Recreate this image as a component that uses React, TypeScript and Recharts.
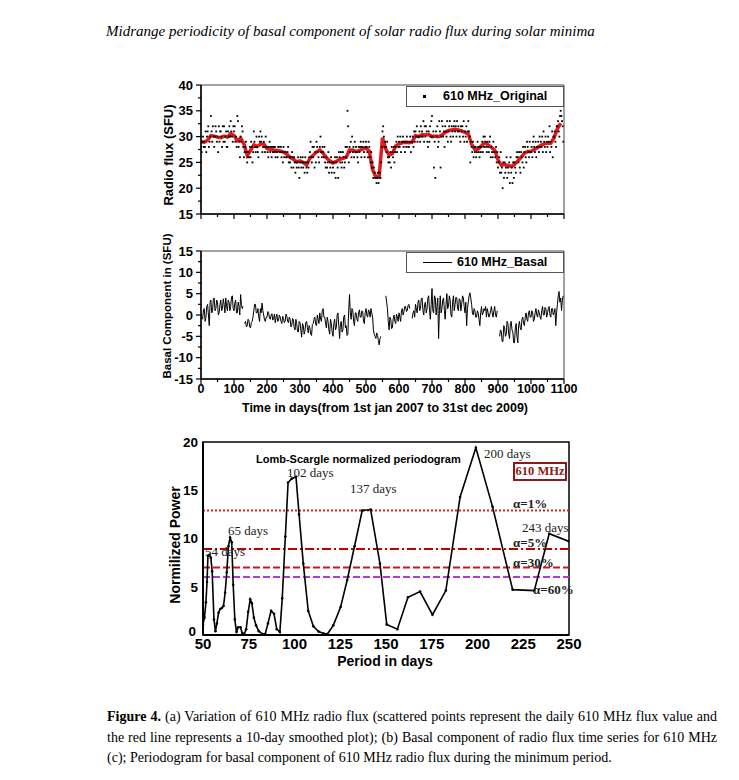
import React from 'react'
import { ComposedChart, LineChart, Line, Scatter, XAxis, YAxis, ReferenceLine, ReferenceArea } from 'recharts'

const title = 'Midrange periodicity of basal component of solar radio flux during solar minima'

// (a) daily 610 MHz flux, one row per 10-day block (a reading every 2 days)
const dailyFluxBlocks: number[][] = [
  [28, 27, 29, 30, 28], [29, 28, 31, 27, 30], [31, 32, 28, 29, 30], [34, 31, 29, 32, 30], [28, 30, 32, 31, 29],
  [30, 27, 32, 29, 31], [31, 30, 28, 32, 29], [32, 29, 30, 31, 28], [28, 31, 30, 32, 30], [33, 31, 30, 29, 32],
  [31, 32, 29, 30, 28], [34, 33, 28, 29, 26], [30, 29, 32, 31, 28], [26, 27, 28, 29, 27], [25, 26, 27, 26, 28],
  [26, 29, 28, 25, 27], [31, 29, 28, 27, 30], [28, 27, 26, 30, 29], [31, 29, 30, 27, 28], [29, 28, 27, 30, 28],
  [28, 27, 26, 28, 29], [27, 28, 26, 28, 27], [28, 27, 28, 26, 27], [27, 26, 28, 28, 27], [27, 28, 26, 27, 25],
  [28, 26, 27, 27, 26], [26, 27, 28, 25, 26], [25, 26, 24, 27, 26], [24, 26, 25, 23, 25], [24, 25, 26, 24, 22],
  [25, 26, 24, 25, 26], [24, 25, 23, 26, 25], [24, 23, 25, 24, 26], [27, 29, 26, 25, 28], [26, 28, 24, 27, 25],
  [29, 28, 27, 26, 25], [28, 30, 27, 26, 28], [27, 26, 28, 25, 24], [26, 24, 25, 27, 23], [25, 24, 26, 23, 25],
  [24, 25, 23, 26, 22], [25, 26, 24, 22, 27], [26, 25, 27, 24, 25], [27, 26, 24, 25, 28], [26, 28, 35, 32, 25],
  [28, 27, 29, 26, 30], [27, 28, 26, 29, 27], [28, 27, 26, 25, 28], [27, 28, 29, 26, 28], [28, 29, 27, 26, 28],
  [29, 28, 27, 26, 29], [28, 26, 25, 27, 24], [25, 22, 24, 23, 22], [22, 21, 22, 23, 21], [22, 23, 22, 25, 28],
  [31, 32, 30, 28, 29], [28, 27, 29, 26, 25], [26, 25, 27, 24, 28], [27, 26, 28, 25, 27], [28, 29, 27, 30, 28],
  [29, 28, 30, 27, 29], [29, 30, 28, 29, 27], [29, 28, 30, 29, 28], [28, 29, 30, 27, 29], [29, 30, 28, 31, 29],
  [31, 30, 32, 29, 30], [30, 31, 29, 32, 30], [31, 30, 33, 29, 32], [30, 32, 31, 29, 28], [31, 29, 32, 30, 33],
  [34, 30, 31, 24, 29], [22, 31, 30, 32, 28], [29, 33, 31, 24, 30], [33, 32, 30, 31, 28], [32, 31, 30, 33, 29],
  [31, 32, 33, 30, 29], [32, 31, 30, 32, 33], [31, 32, 30, 33, 31], [32, 31, 30, 29, 32], [31, 32, 30, 33, 29],
  [31, 30, 32, 29, 31], [33, 31, 30, 25, 29], [28, 27, 29, 26, 28], [27, 28, 26, 27, 29], [28, 27, 26, 28, 27],
  [28, 29, 27, 30, 28], [30, 29, 28, 27, 29], [28, 27, 29, 30, 26], [28, 27, 26, 29, 27], [27, 26, 28, 25, 27],
  [24, 25, 26, 23, 27], [23, 24, 20, 25, 22], [25, 23, 24, 26, 22], [24, 23, 25, 21, 26], [23, 24, 21, 25, 22],
  [25, 24, 23, 26, 27], [26, 25, 27, 24, 23], [27, 26, 25, 28, 24], [27, 28, 26, 25, 29], [28, 27, 26, 29, 27],
  [27, 28, 26, 29, 30], [28, 27, 29, 26, 28], [28, 29, 27, 30, 28], [29, 28, 30, 27, 31], [29, 28, 30, 27, 29],
  [28, 30, 29, 32, 27], [29, 28, 31, 26, 30], [30, 31, 29, 28, 32], [32, 33, 31, 30, 34], [35, 34, 33, 32, 29],
]

// (a) 10-day smoothed flux, one value every 10 days from day 0
const smoothFlux = [
  29.0, 28.9, 29.3, 30.2, 30.1, 29.9, 29.8, 30.1, 29.9, 30.6,
  30.2, 29.2, 29.7, 28.6, 26.4, 27.3, 28.4, 28.1, 28.5, 28.6,
  27.7, 27.5, 27.4, 27.3, 27.2, 27.0, 26.6, 26.0, 25.6, 25.1,
  25.3, 25.0, 24.5, 25.8, 26.4, 27.0, 27.4, 26.8, 25.9, 25.3,
  24.9, 25.2, 25.6, 25.8, 26.0, 27.4, 27.4, 27.1, 27.3, 27.6,
  27.8, 27.2, 23.6, 22.2, 22.4, 29.8, 27.6, 26.4, 26.7, 28.2,
  28.6, 28.8, 28.9, 28.8, 28.9, 30.2, 30.0, 30.4, 30.3, 30.4,
  30.0, 30.1, 30.0, 30.3, 30.8, 31.2, 31.3, 31.4, 31.3, 31.1,
  30.8, 30.5, 28.5, 27.5, 27.6, 28.2, 28.8, 28.4, 27.9, 27.4,
  25.5, 24.5, 24.6, 24.4, 24.2, 24.6, 25.3, 26.0, 26.8, 27.1,
  27.1, 27.5, 27.9, 28.3, 28.6, 28.7, 28.7, 29.8, 31.5, 32.6,
]

// (b) basal component, one row per 20 days (a value every 2.5 days, null = data gap)
const basalBlocks: (number | null)[][] = [
  [0.5, -0.8, -1.0, 1.2, 1.5, -1.5, -0.5, 2.0],
  [2.5, 0.0, -2.5, 3.0, 3.5, 0.5, 1.0, 3.8],
  [4.0, 1.0, 1.5, 3.5, 3.0, 0.0, 0.5, 2.5],
  [3.5, 1.0, 1.5, 3.8, 2.5, 0.5, 4.0, 2.0],
  [1.0, 3.5, 3.0, 1.0, 2.0, 4.2, 4.5, 1.5],
  [1.0, 2.8, 3.5, 0.5, 0.5, 3.0, 2.0, 0.0],
  [4.8, 2.5, 1.5, 2.0, null, -2.0, -1.5, -2.8],
  [-2.5, -1.0, -1.2, -2.8, -3.0, -1.8, -1.5, -0.5],
  [1.0, 2.5, 2.5, 0.5, 0.5, 1.5, -0.5, -1.5],
  [1.5, 0.5, 2.8, 1.0, 0.0, -1.2, -1.5, -0.5],
  [-0.5, 0.8, 0.5, -0.8, -1.0, 0.0, 0.3, -1.2],
  [-0.8, 0.2, -1.8, -0.5, 0.2, -1.5, -1.2, 0.0],
  [-0.5, -1.5, -2.0, -0.3, -0.8, -1.8, -1.5, 0.2],
  [-0.3, -1.5, -1.8, -0.5, -1.0, -2.8, -2.5, -0.8],
  [-1.2, -3.0, -3.5, -1.0, -2.0, -3.8, -4.0, -1.5],
  [-1.8, -3.5, -5.2, -2.0, -2.5, -4.5, -3.8, -1.8],
  [-1.5, -3.0, -4.2, -2.5, -3.0, -4.5, -4.8, -2.2],
  [-2.0, -1.0, -0.5, -2.2, -2.5, 0.0, -1.0, -2.0],
  [0.5, -1.0, -1.5, 1.0, 1.5, -0.5, -0.5, -2.0],
  [-3.0, -0.5, -1.5, -3.5, -4.5, -1.0, -2.0, -4.0],
  [-5.0, -2.0, -1.0, -3.5, -3.0, 0.0, 0.5, -2.5],
  [-5.5, -2.0, -1.5, -4.0, -3.5, -0.5, 0.0, -3.0],
  [-2.5, -4.8, -4.5, 1.0, 4.8, 0.5, -1.0, 1.5],
  [1.0, -1.5, -2.5, 0.5, 0.5, -1.0, -1.5, 0.5],
  [1.2, -0.5, -0.5, 1.0, 0.8, -1.5, -2.0, 0.5],
  [1.5, 0.0, -0.5, 1.2, 0.8, -0.5, 1.5, 0.5],
  [-0.5, -3.5, -4.5, -5.0, -5.5, -4.2, -4.8, -6.0],
  [-7.0, -5.5, -5.0, null, null, null, null, null],
  [4.5, 3.0, 1.5, -1.5, -3.5, -0.5, -1.0, -3.2],
  [-3.0, -0.8, 0.0, -1.5, -2.0, 0.2, -0.5, -1.5],
  [0.5, -0.5, -1.5, 1.0, 1.5, 0.0, 0.8, 2.0],
  [2.0, 0.8, 1.0, 2.2, 2.5, 1.5, null, null],
  [-0.8, 0.5, 1.0, -0.5, 2.5, 1.5, 0.5, 3.0],
  [3.5, 1.0, 1.5, 3.8, 4.0, 1.0, 0.0, 2.5],
  [3.0, 0.5, 1.5, 4.0, 4.5, 1.0, -1.0, 2.5],
  [6.2, 1.0, 0.5, 4.5, 4.0, 0.0, 2.0, 4.0],
  [-5.5, 1.0, 4.5, 0.5, 1.5, 3.5, 4.0, 1.0],
  [-1.0, 2.5, 5.0, 1.5, 2.0, 4.5, 3.5, 0.0],
  [-0.5, 3.0, 4.5, 1.0, 2.5, 4.2, 4.0, 1.5],
  [1.0, 3.8, 3.5, 1.0, 2.5, 4.5, 4.0, 2.0],
  [0.5, 3.0, -2.5, 1.5, 3.0, 4.5, 5.2, 4.0],
  [2.5, 0.5, 0.0, 1.5, 1.0, -0.5, -0.5, 1.0],
  [0.5, -1.0, -2.5, 0.5, 2.0, 0.0, 0.5, 1.5],
  [1.0, 2.0, -0.5, 1.5, 0.5, -0.5, 0.0, 1.0],
  [2.0, 0.5, -0.5, 1.0, 2.0, 0.0, -0.5, 1.0],
  [null, null, -5.0, -3.5, -3.8, -6.2, -6.2, -2.5],
  [-3.0, -5.0, -4.5, -1.5, -2.0, -4.5, -5.5, -2.0],
  [-1.5, -3.5, -4.0, -6.5, -6.5, -3.0, -2.0, -5.0],
  [-6.5, -2.5, -1.5, -3.0, -3.5, -1.0, -0.5, -2.0],
  [-2.5, -0.5, 0.5, -1.0, -1.5, 0.5, 1.0, -0.5],
  [-0.5, 1.0, 0.5, -1.5, -1.0, 0.5, 1.5, 0.0],
  [-0.5, 1.2, 0.5, -0.5, -1.0, 1.0, 2.0, 0.0],
  [0.0, 1.8, 1.5, -0.5, 0.5, 1.5, 2.0, 0.0],
  [-0.5, 1.5, 1.5, 0.0, 0.5, 1.5, -2.5, 0.5],
  [2.5, 4.5, 5.5, 3.0, 4.0, 1.0, 3.5, 4.5],
]

// (c) Lomb-Scargle periodogram
const periodDays = [
  50.0, 50.8, 51.6, 52.2, 52.7, 53.5, 54.3, 55.0, 56.0, 56.8,
  57.6, 58.5, 59.4, 60.3, 61.2, 62.1, 63.0, 63.9, 64.8, 65.7,
  66.5, 67.4, 68.3, 69.2, 70.5, 71.4, 72.5, 73.6, 74.7, 75.8,
  76.7, 77.8, 79.0, 80.5, 82.5, 84.0, 85.5, 87.2, 88.8, 90.3,
  92.0, 93.3, 95.0, 96.5, 98.5, 100.8, 102.5, 104.8, 107.5, 110.3,
  113.2, 116.0, 118.0, 121.2, 125.2, 128.8, 132.8, 137.0, 141.6, 146.7,
  150.4, 156.2, 162.0, 168.6, 175.4, 182.7, 190.5, 199.1, 208.2, 219.2,
  231.0, 239.2, 250.0,
]
const normPower = [
  1.1, 1.8, 3.4, 5.5, 8.2, 8.3, 8.0, 6.6, 1.6, 0.4,
  1.2, 2.3, 2.7, 2.8, 3.0, 4.4, 6.5, 9.2, 10.1, 9.6,
  5.2, 1.6, 0.3, 0.8, 0.8, 0.2, 0.1, 0.6, 2.4, 3.7,
  3.3, 1.8, 1.0, 0.4, 0.1, 0.1, 1.2, 2.5, 2.2, 0.6,
  0.3, 3.8, 10.2, 15.8, 16.2, 16.4, 12.5, 7.4, 2.5, 0.9,
  0.35, 0.15, 0.1, 1.0, 2.9, 5.7, 9.2, 12.9, 13.0, 7.4,
  1.1, 0.6, 3.9, 4.5, 2.1, 4.6, 14.3, 19.4, 13.3, 4.7,
  4.6, 10.5, 9.7,
]
const alphaLevels = [12.9, 8.9, 7.0, 6.0]
const alphaLabels = ['α=1%', 'α=5%', 'α=30%', 'α=60%']
const peakLabels = ['54 days', '65 days', '102 days', '137 days', '200 days', '243 days']

const xTicksTime = [0, 50, 100, 150, 200, 250, 300, 350, 400, 450, 500, 550, 600, 650, 700, 750, 800, 850, 900, 950, 1000, 1050, 1100]
const yTicksFlux = [15, 17.5, 20, 22.5, 25, 27.5, 30, 32.5, 35, 37.5, 40]
const yTicksBasal = [-15, -12.5, -10, -7.5, -5, -2.5, 0, 2.5, 5, 7.5, 10, 12.5, 15]
const xTicksPeriod = [50, 75, 100, 125, 150, 175, 200, 225, 250]
const yTicksPower = [0, 5, 10, 15, 20]

const fluxPoints = dailyFluxBlocks.flatMap((row, b) => row.map((v, i) => ({ x: b * 10 + i * 2, y: v })))
const smoothPoints = smoothFlux.map((v, i) => ({ x: i * 10, y: v }))
const basalPoints = basalBlocks.flatMap((row, b) => row.map((v, i) => ({ x: b * 20 + i * 2.5, y: v })))
const periodPoints = periodDays.map((p, i) => ({ x: p, y: normPower[i] }))

const SANS = '"Liberation Sans", Arial, sans-serif'
const SERIF = '"Liberation Serif", "Times New Roman", serif'

function xTick(major: number, labels: boolean, fontSize: number, dy: number, tickLen: number) {
  return (p: any) => {
    const isMajor = p.payload.value % major === 0
    return (
      <g>
        {tickLen > 0 && (
          <line x1={p.x} x2={p.x} y1={p.y} y2={p.y + (isMajor ? tickLen : tickLen * 0.6)} stroke="#000" strokeWidth={1.2} />
        )}
        {labels && isMajor && (
          <text x={p.x} y={p.y + dy} textAnchor="middle" fontFamily={SANS} fontWeight="bold" fontSize={fontSize} fill="#000">
            {p.payload.value}
          </text>
        )}
      </g>
    )
  }
}

// lift = shift of the bottom label, so it clears the x labels below it
function yTick(major: number, fontSize: number, gap: number, tickLen: number, bottom?: number, lift = 0) {
  return (p: any) => {
    const v = p.payload.value
    const isMajor = v % major === 0
    const up = v === bottom ? lift : 0
    return (
      <g>
        {tickLen > 0 && (
          <line x1={p.x} x2={p.x - (isMajor ? tickLen : tickLen * 0.6)} y1={p.y} y2={p.y} stroke="#000" strokeWidth={1.2} />
        )}
        {isMajor && (
          <text x={p.x - gap - (up ? 2 : 0)} y={p.y - up} dy="0.36em" textAnchor="end" fontFamily={SANS} fontWeight="bold" fontSize={fontSize} fill="#000">
            {v}
          </text>
        )}
      </g>
    )
  }
}

const abs = (left: number, top: number, extra: React.CSSProperties = {}): React.CSSProperties => ({
  position: 'absolute', left, top, whiteSpace: 'nowrap', ...extra,
})

function VLabel({ text, cx, cy, size }: { text: string; cx: number; cy: number; size: number }) {
  return (
    <div style={abs(cx, cy, { transform: 'translate(-50%, -50%) rotate(-90deg)', fontFamily: SANS, fontWeight: 'bold', fontSize: size, lineHeight: 1 })}>
      {text}
    </div>
  )
}

function Note({ text, left, cy, size = 13, bold = false, color = '#222' }: { text: string; left: number; cy: number; size?: number; bold?: boolean; color?: string }) {
  return (
    <div style={abs(left, cy, { transform: 'translateY(-50%)', fontFamily: SERIF, fontSize: size, fontWeight: bold ? 'bold' : 'normal', color, lineHeight: 1 })}>
      {text}
    </div>
  )
}

export default function App() {
  return (
    <div style={{ position: 'absolute', left: 0, top: 0, width: 739, height: 780, background: '#fff', color: '#000' }}>
      <div style={abs(106, 22, { fontFamily: SERIF, fontStyle: 'italic', fontSize: 15, lineHeight: '18px' })}>{title}</div>

      {/* (a) original flux */}
      <div style={abs(0, 0)}>
        <ComposedChart width={739} height={230} margin={{ top: 85, right: 175, bottom: 6, left: 161 }}>
          <XAxis type="number" dataKey="x" domain={[0, 1100]} allowDataOverflow ticks={xTicksTime} interval={0} height={10}
            tickSize={0} tickMargin={0} axisLine={{ stroke: '#000', strokeWidth: 1.5 }} tick={xTick(100, false, 12, 0, 5)} />
          <YAxis type="number" dataKey="y" domain={[15, 40]} allowDataOverflow ticks={yTicksFlux} interval={0} width={40}
            tickSize={0} tickMargin={0} axisLine={{ stroke: '#000', strokeWidth: 1.5 }} tick={yTick(5, 13, 8, 5)} />
          <ReferenceArea x1={0} x2={1100} y1={15} y2={40} fill="none" stroke="#444" strokeWidth={1} />
          <Scatter data={fluxPoints} fill="#000" isAnimationActive={false}
            shape={(p: any) => <rect x={p.cx - 0.9} y={p.cy - 0.9} width={1.8} height={1.8} fill="#000" />} />
          <Line data={smoothPoints} dataKey="y" type="linear" stroke="#e8191c" strokeWidth={3.5} dot={false} isAnimationActive={false} />
        </ComposedChart>
      </div>
      <VLabel text="Radio flux (SFU)" cx={168} cy={155} size={13} />
      <div style={abs(406, 86, { width: 156, height: 19, border: '1px solid #555', background: '#fff' })} />
      <div style={abs(423, 95, { width: 3, height: 3, background: '#000' })} />
      <div style={abs(443, 89, { fontFamily: SANS, fontWeight: 'bold', fontSize: 12.5, lineHeight: '14px' })}>610 MHz_Original</div>

      {/* (b) basal component */}
      <div style={abs(0, 230)}>
        <LineChart width={739} height={200} data={basalPoints} margin={{ top: 21, right: 175, bottom: 31, left: 161 }}>
          <XAxis type="number" dataKey="x" domain={[0, 1100]} allowDataOverflow ticks={xTicksTime} interval={0} height={20}
            tickSize={0} tickMargin={0} axisLine={{ stroke: '#000', strokeWidth: 1.5 }} tick={xTick(100, true, 12.5, 14, 5)} />
          <YAxis type="number" domain={[-15, 15]} allowDataOverflow ticks={yTicksBasal} interval={0} width={40}
            tickSize={0} tickMargin={0} axisLine={{ stroke: '#000', strokeWidth: 1.5 }} tick={yTick(5, 13, 8, 5)} />
          <ReferenceArea x1={0} x2={1100} y1={-15} y2={15} fill="none" stroke="#444" strokeWidth={1} />
          <Line dataKey="y" type="linear" stroke="#000" strokeWidth={1} dot={false} connectNulls={false} isAnimationActive={false} />
        </LineChart>
      </div>
      <VLabel text="Basal Component in (SFU)" cx={168} cy={306} size={11.5} />
      <div style={abs(406, 252, { width: 156, height: 19, border: '1px solid #555', background: '#fff' })} />
      <div style={abs(423, 262, { width: 29, height: 1, background: '#000' })} />
      <div style={abs(457, 255, { fontFamily: SANS, fontWeight: 'bold', fontSize: 12.5, lineHeight: '14px' })}>610 MHz_Basal</div>
      <div style={abs(385, 408, { transform: 'translate(-50%, -50%)', fontFamily: SANS, fontWeight: 'bold', fontSize: 12.5, lineHeight: 1 })}>
        Time in days(from 1st jan 2007 to 31st dec 2009)
      </div>

      {/* (c) periodogram */}
      <div style={abs(0, 430)}>
        <LineChart width={739} height={250} data={periodPoints} margin={{ top: 12, right: 170, bottom: 25, left: 173 }}>
          <XAxis type="number" dataKey="x" domain={[50, 250]} allowDataOverflow ticks={xTicksPeriod} interval={0} height={20}
            tickSize={0} tickMargin={0} axisLine={{ stroke: '#000', strokeWidth: 2 }} tick={xTick(25, true, 15, 13.5, 0)} />
          <YAxis type="number" domain={[0, 20]} allowDataOverflow ticks={yTicksPower} interval={0} width={30}
            tickSize={0} tickMargin={0} axisLine={{ stroke: '#000', strokeWidth: 2 }} tick={yTick(5, 13.5, 5, 0, 0, 4)} />
          <ReferenceArea x1={50} x2={250} y1={0} y2={20} fill="none" stroke="#000" strokeWidth={1.5} />
          <ReferenceLine y={alphaLevels[0]} stroke="#e02424" strokeWidth={2} strokeDasharray="2 2" />
          <ReferenceLine y={alphaLevels[1]} stroke="#c00000" strokeWidth={2} strokeDasharray="9 3 2 3" />
          <ReferenceLine y={alphaLevels[2]} stroke="#c41a1a" strokeWidth={2} strokeDasharray="7 3" />
          <ReferenceLine y={alphaLevels[3]} stroke="#b23ad0" strokeWidth={2} strokeDasharray="7 3" />
          <Line dataKey="y" type="linear" stroke="#000" strokeWidth={1.6} isAnimationActive={false}
            dot={{ r: 1.3, fill: '#000', stroke: 'none' }} />
        </LineChart>
      </div>
      <VLabel text="Normilized Power" cx={175} cy={545} size={14} />
      <div style={abs(385, 661, { transform: 'translate(-50%, -50%)', fontFamily: SANS, fontWeight: 'bold', fontSize: 14, lineHeight: 1 })}>
        Period in days
      </div>
      <div style={abs(256, 453, { fontFamily: SANS, fontWeight: 'bold', fontSize: 11, lineHeight: '13px' })}>
        Lomb-Scargle normalized periodogram
      </div>
      <div style={abs(513, 462, { width: 50, height: 15, border: '2px solid #8b1a1a', textAlign: 'center', fontFamily: SERIF, fontWeight: 'bold', fontSize: 12.5, lineHeight: '15px', color: '#8b1a1a' })}>
        610 MHz
      </div>
      <Note text={peakLabels[0]} left={205} cy={551} />
      <Note text={peakLabels[1]} left={228} cy={530} />
      <Note text={peakLabels[2]} left={287} cy={472} />
      <Note text={peakLabels[3]} left={350} cy={488} />
      <Note text={peakLabels[4]} left={484} cy={453} />
      <Note text={peakLabels[5]} left={522} cy={527} />
      <Note text={alphaLabels[0]} left={513} cy={503} bold />
      <Note text={alphaLabels[1]} left={513} cy={542} bold />
      <Note text={alphaLabels[2]} left={513} cy={562} bold />
      <Note text={alphaLabels[3]} left={533} cy={589} bold />

      {/* caption */}
      <div style={abs(107, 707, { width: 610, whiteSpace: 'normal', fontFamily: SERIF, fontSize: 14, lineHeight: '20.5px' })}>
        <div style={{ textAlign: 'justify', textAlignLast: 'justify' }}>
          <b>Figure 4.</b> (a) Variation of 610 MHz radio flux (scattered points represent the daily 610 MHz flux value and
        </div>
        <div style={{ textAlign: 'justify', textAlignLast: 'justify' }}>
          the red line represents a 10-day smoothed plot); (b) Basal component of radio flux time series for 610 MHz
        </div>
        <div>(c); Periodogram for basal component of 610 MHz radio flux during the minimum period.</div>
      </div>
    </div>
  )
}
